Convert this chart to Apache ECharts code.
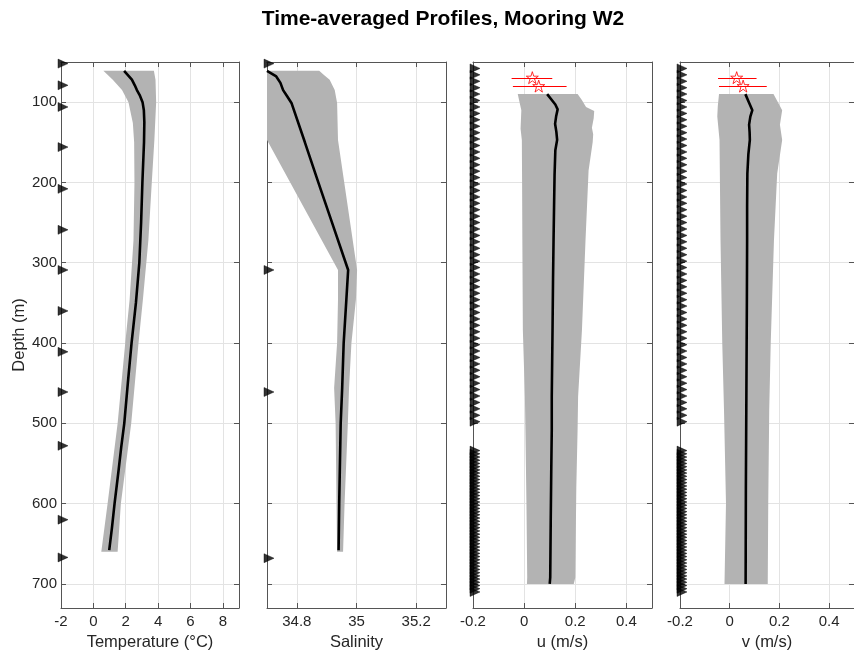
<!DOCTYPE html>
<html>
<head>
<meta charset="utf-8">
<script src="https://cdn.jsdelivr.net/npm/echarts@6.0.0/dist/echarts.min.js"></script>
<style>
html, body { margin: 0; padding: 0; background: #fff; }
#chart { width: 854px; height: 656px; }
</style>
</head>
<body>
<div id="chart"></div>
<script>
// tick positions
var depthTicks = [100, 200, 300, 400, 500, 600, 700];
var tempTicks = [-2, 0, 2, 4, 6, 8];
var salTicks = [34.8, 35, 35.2];
var velTicks = [-0.2, 0, 0.2, 0.4];

// temperature mean profile
var tempDepth = [61, 66, 72, 79, 85, 92, 100, 110, 125, 150, 200, 250, 300, 350, 400, 450, 500, 530, 560, 600, 630, 658];
var tempMean = [1.9, 2.12, 2.38, 2.56, 2.69, 2.88, 3.04, 3.12, 3.15, 3.13, 3.03, 2.95, 2.84, 2.63, 2.36, 2.13, 1.91, 1.72, 1.55, 1.31, 1.15, 0.98];
// temperature spread
var tempLoDepth = [61, 72, 85, 100, 126, 150, 200, 272, 346, 400, 500, 600, 660];
var tempLo = [0.62, 1.2, 1.77, 2.17, 2.44, 2.52, 2.54, 2.48, 2.24, 1.97, 1.5, 0.88, 0.49];
var tempHiDepth = [61, 72, 100, 147, 200, 272, 346, 400, 500, 600, 660];
var tempHi = [3.74, 3.84, 3.88, 3.77, 3.61, 3.4, 3.06, 2.79, 2.34, 1.7, 1.5];

// salinity
var salDepth = [61, 68, 76, 85, 93, 101, 150, 200, 250, 309, 346, 400, 456, 500, 600, 658];
var salMean = [34.70, 34.731, 34.745, 34.754, 34.768, 34.782, 34.827, 34.872, 34.918, 34.972, 34.966, 34.957, 34.952, 34.947, 34.942, 34.94];
var salLoDepth = [61, 101, 147, 309, 346, 400, 456, 500, 600, 660];
var salLo = [34.6, 34.62, 34.70, 34.938, 34.938, 34.935, 34.925, 34.93, 34.933, 34.935];
var salHiDepth = [61, 66, 72, 85, 101, 147, 309, 346, 400, 456, 500, 600, 660];
var salHi = [34.875, 34.89, 34.91, 34.927, 34.935, 34.938, 35.002, 34.998, 34.983, 34.975, 34.971, 34.96, 34.955];

// u velocity
var uDepth = [90, 96, 103, 109, 118, 127, 137, 147, 160, 190, 230, 272, 320, 384, 467, 508, 560, 620, 692, 700];
var uMean = [0.09, 0.105, 0.122, 0.131, 0.125, 0.121, 0.126, 0.129, 0.122, 0.119, 0.117, 0.115, 0.113, 0.111, 0.108, 0.108, 0.106, 0.104, 0.102, 0.1];
var uLoDepth = [90, 100, 110, 133, 147, 200, 272, 384, 467, 508, 600, 692, 700];
var uLo = [-0.025, -0.018, -0.011, -0.014, -0.009, -0.008, -0.007, -0.005, 0.003, 0.005, 0.009, 0.012, 0.011];
var uHiDepth = [90, 97, 106, 111, 120, 132, 140, 150, 185, 272, 384, 467, 508, 580, 692, 700];
var uHi = [0.209, 0.225, 0.242, 0.274, 0.272, 0.265, 0.27, 0.268, 0.252, 0.24, 0.226, 0.211, 0.209, 0.204, 0.2, 0.194];

// v velocity
var vDepth = [90, 100, 110, 118, 128, 137, 147, 165, 189, 230, 272, 350, 467, 580, 700];
var vMean = [0.063, 0.077, 0.091, 0.083, 0.078, 0.08, 0.081, 0.075, 0.071, 0.07, 0.07, 0.069, 0.067, 0.065, 0.064];
var vLoDepth = [90, 105, 118, 147, 272, 400, 483, 600, 650, 700];
var vLo = [-0.043, -0.048, -0.05, -0.041, -0.037, -0.03, -0.023, -0.015, -0.018, -0.021];
var vHiDepth = [90, 100, 110, 128, 147, 189, 272, 400, 483, 600, 700];
var vHi = [0.176, 0.194, 0.211, 0.202, 0.211, 0.191, 0.178, 0.165, 0.159, 0.155, 0.153];

// current meter estimates with error range: [value, low, high, depth]
var uPoints = [[0.032, -0.049, 0.11, 69.5], [0.057, -0.044, 0.166, 80]];
var vPoints = [[0.028, -0.047, 0.108, 69.5], [0.054, -0.043, 0.149, 80]];

// instrument depths
var tempInstDepth = [52, 79, 106, 156, 208, 259, 309, 360, 411, 461, 528, 620, 667];
var salInstDepth = [52, 309, 461, 668];
var adcpUpperDepth = [58, 66, 74, 82, 90, 98, 106, 114, 122, 130, 138, 146, 154, 162, 170, 178, 186, 194, 202, 210, 218, 226, 234, 242, 250, 258, 266, 274, 282, 290, 298, 306, 314, 322, 330, 338, 346, 354, 362, 370, 378, 386, 394, 402, 410, 418, 426, 434, 442, 450, 458, 466, 474, 482, 490, 498];
var adcpLowerDepth = [534, 538, 542, 546, 550, 554, 558, 562, 566, 570, 574, 578, 582, 586, 590, 594, 598, 602, 606, 610, 614, 618, 622, 626, 630, 634, 638, 642, 646, 650, 654, 658, 662, 666, 670, 674, 678, 682, 686, 690, 694, 698, 702, 706, 710];

var font = '"Liberation Sans", Arial, sans-serif';
var axisColor = '#555';
var textColor = '#262626';

var panels = [
  {left: 61, width: 178, min: -2, max: 9, ticks: tempTicks, name: 'Temperature (°C)'},
  {left: 267, width: 179, min: 34.7, max: 35.3, ticks: salTicks, name: 'Salinity'},
  {left: 473, width: 179, min: -0.2, max: 0.5, ticks: velTicks, name: 'u (m/s)'},
  {left: 680, width: 180, min: -0.2, max: 0.5, ticks: velTicks, name: 'v (m/s)'}
];

var grids = [], xAxes = [], yAxes = [], series = [];

panels.forEach(function (p, i) {
  grids.push({left: p.left, top: 62, width: p.width, height: 546});
  var tick = {inside: true, length: 5, customValues: p.ticks, lineStyle: {color: axisColor}};
  var line = {show: true, onZero: false, lineStyle: {color: axisColor, width: 1}};
  xAxes.push({
    type: 'value', gridIndex: i, position: 'bottom', min: p.min, max: p.max,
    name: p.name, nameLocation: 'middle', nameGap: 25,
    nameTextStyle: {fontFamily: font, fontSize: 16.5, color: textColor},
    axisLine: line, axisTick: tick,
    axisLabel: {customValues: p.ticks, fontFamily: font, fontSize: 15, color: textColor, margin: 6},
    splitLine: {show: true, lineStyle: {color: '#e3e3e3', width: 1}}
  });
  xAxes.push({
    type: 'value', gridIndex: i, position: 'top', min: p.min, max: p.max,
    axisLine: line, axisTick: tick, axisLabel: {show: false}, splitLine: {show: false}
  });
  var ytick = {inside: true, length: 5, customValues: depthTicks, lineStyle: {color: axisColor}};
  yAxes.push({
    type: 'value', gridIndex: i, position: 'left', min: 50, max: 730, inverse: true,
    name: i === 0 ? 'Depth (m)' : '', nameLocation: 'middle', nameGap: 32,
    nameTextStyle: {fontFamily: font, fontSize: 16.5, color: textColor},
    axisLine: line, axisTick: ytick,
    axisLabel: {show: i === 0, customValues: depthTicks, fontFamily: font, fontSize: 15, color: textColor, margin: 4},
    splitLine: {show: true, lineStyle: {color: '#e3e3e3', width: 1}}
  });
  yAxes.push({
    type: 'value', gridIndex: i, position: 'right', min: 50, max: 730, inverse: true,
    axisLine: line, axisTick: ytick, axisLabel: {show: false}, splitLine: {show: false}
  });
});

function pairs(xs, ds) {
  return xs.map(function (x, k) { return [x, ds[k]]; });
}

function band(i, loD, lo, hiD, hi) {
  var pts = pairs(hi, hiD).concat(pairs(lo, loD).reverse());
  return {
    type: 'custom', xAxisIndex: 2 * i, yAxisIndex: 2 * i, clip: true, z: 1, silent: true,
    data: pts, encode: {x: 0, y: 1},
    renderItem: function (params, api) {
      if (params.dataIndex !== 0) return;
      return {
        type: 'polygon',
        shape: {points: pts.map(function (q) { return api.coord(q); })},
        style: {fill: '#b3b3b3'}
      };
    }
  };
}

function meanLine(i, xs, ds) {
  return {
    type: 'line', xAxisIndex: 2 * i, yAxisIndex: 2 * i, z: 3, silent: true,
    data: pairs(xs, ds), showSymbol: false, symbol: 'none',
    lineStyle: {color: '#000', width: 2.6}
  };
}

function markers(i, ds) {
  return {
    type: 'scatter', xAxisIndex: 2 * i, yAxisIndex: 2 * i, z: 6, clip: false, silent: true,
    data: ds.map(function (d) { return [panels[i].min, d]; }),
    symbol: 'path://M0,0 L10,5 L0,10 Z', symbolSize: [10, 9], symbolOffset: [2, 0],
    itemStyle: {color: '#000', borderColor: '#000', borderWidth: 0.5}
  };
}

var starPath = 'path://M50,2 L61,36 L97,36 L68,57 L79,92 L50,71 L21,92 L32,57 L3,36 L39,36 Z';

function errBars(i, pts) {
  return {
    type: 'custom', xAxisIndex: 2 * i, yAxisIndex: 2 * i, z: 4, silent: true,
    data: pts.map(function (q) { return [q[1], q[2], q[3]]; }), encode: {x: [0, 1], y: 2},
    renderItem: function (params, api) {
      var a = api.coord([api.value(0), api.value(2)]);
      var b = api.coord([api.value(1), api.value(2)]);
      var y = Math.round(a[1]) + 0.5;
      return {type: 'line', shape: {x1: a[0], y1: y, x2: b[0], y2: y}, style: {stroke: '#ff0000', lineWidth: 1}};
    }
  };
}

function stars(i, pts) {
  return {
    type: 'scatter', xAxisIndex: 2 * i, yAxisIndex: 2 * i, z: 5, clip: false, silent: true,
    data: pts.map(function (q) { return [q[0], q[3]]; }),
    symbol: starPath, symbolSize: 12,
    itemStyle: {color: 'rgba(255,255,255,0)', borderColor: '#ff0000', borderWidth: 1}
  };
}

series.push(band(0, tempLoDepth, tempLo, tempHiDepth, tempHi));
series.push(meanLine(0, tempMean, tempDepth));
series.push(markers(0, tempInstDepth));

series.push(band(1, salLoDepth, salLo, salHiDepth, salHi));
series.push(meanLine(1, salMean, salDepth));
series.push(markers(1, salInstDepth));

series.push(band(2, uLoDepth, uLo, uHiDepth, uHi));
series.push(meanLine(2, uMean, uDepth));
series.push(markers(2, adcpUpperDepth));
series.push(markers(2, adcpLowerDepth));
series.push(errBars(2, uPoints));
series.push(stars(2, uPoints));

series.push(band(3, vLoDepth, vLo, vHiDepth, vHi));
series.push(meanLine(3, vMean, vDepth));
series.push(markers(3, adcpUpperDepth));
series.push(markers(3, adcpLowerDepth));
series.push(errBars(3, vPoints));
series.push(stars(3, vPoints));

var chart = echarts.init(document.getElementById('chart'), null, {renderer: 'canvas'});
chart.setOption({
  animation: false,
  backgroundColor: '#fff',
  graphic: [{
    type: 'text', x: 443, y: 19,
    style: {text: 'Time-averaged Profiles, Mooring W2', font: 'bold 21px ' + font, fill: '#000', align: 'center', verticalAlign: 'middle'}
  }],
  grid: grids,
  xAxis: xAxes,
  yAxis: yAxes,
  series: series
});
</script>
</body>
</html>
